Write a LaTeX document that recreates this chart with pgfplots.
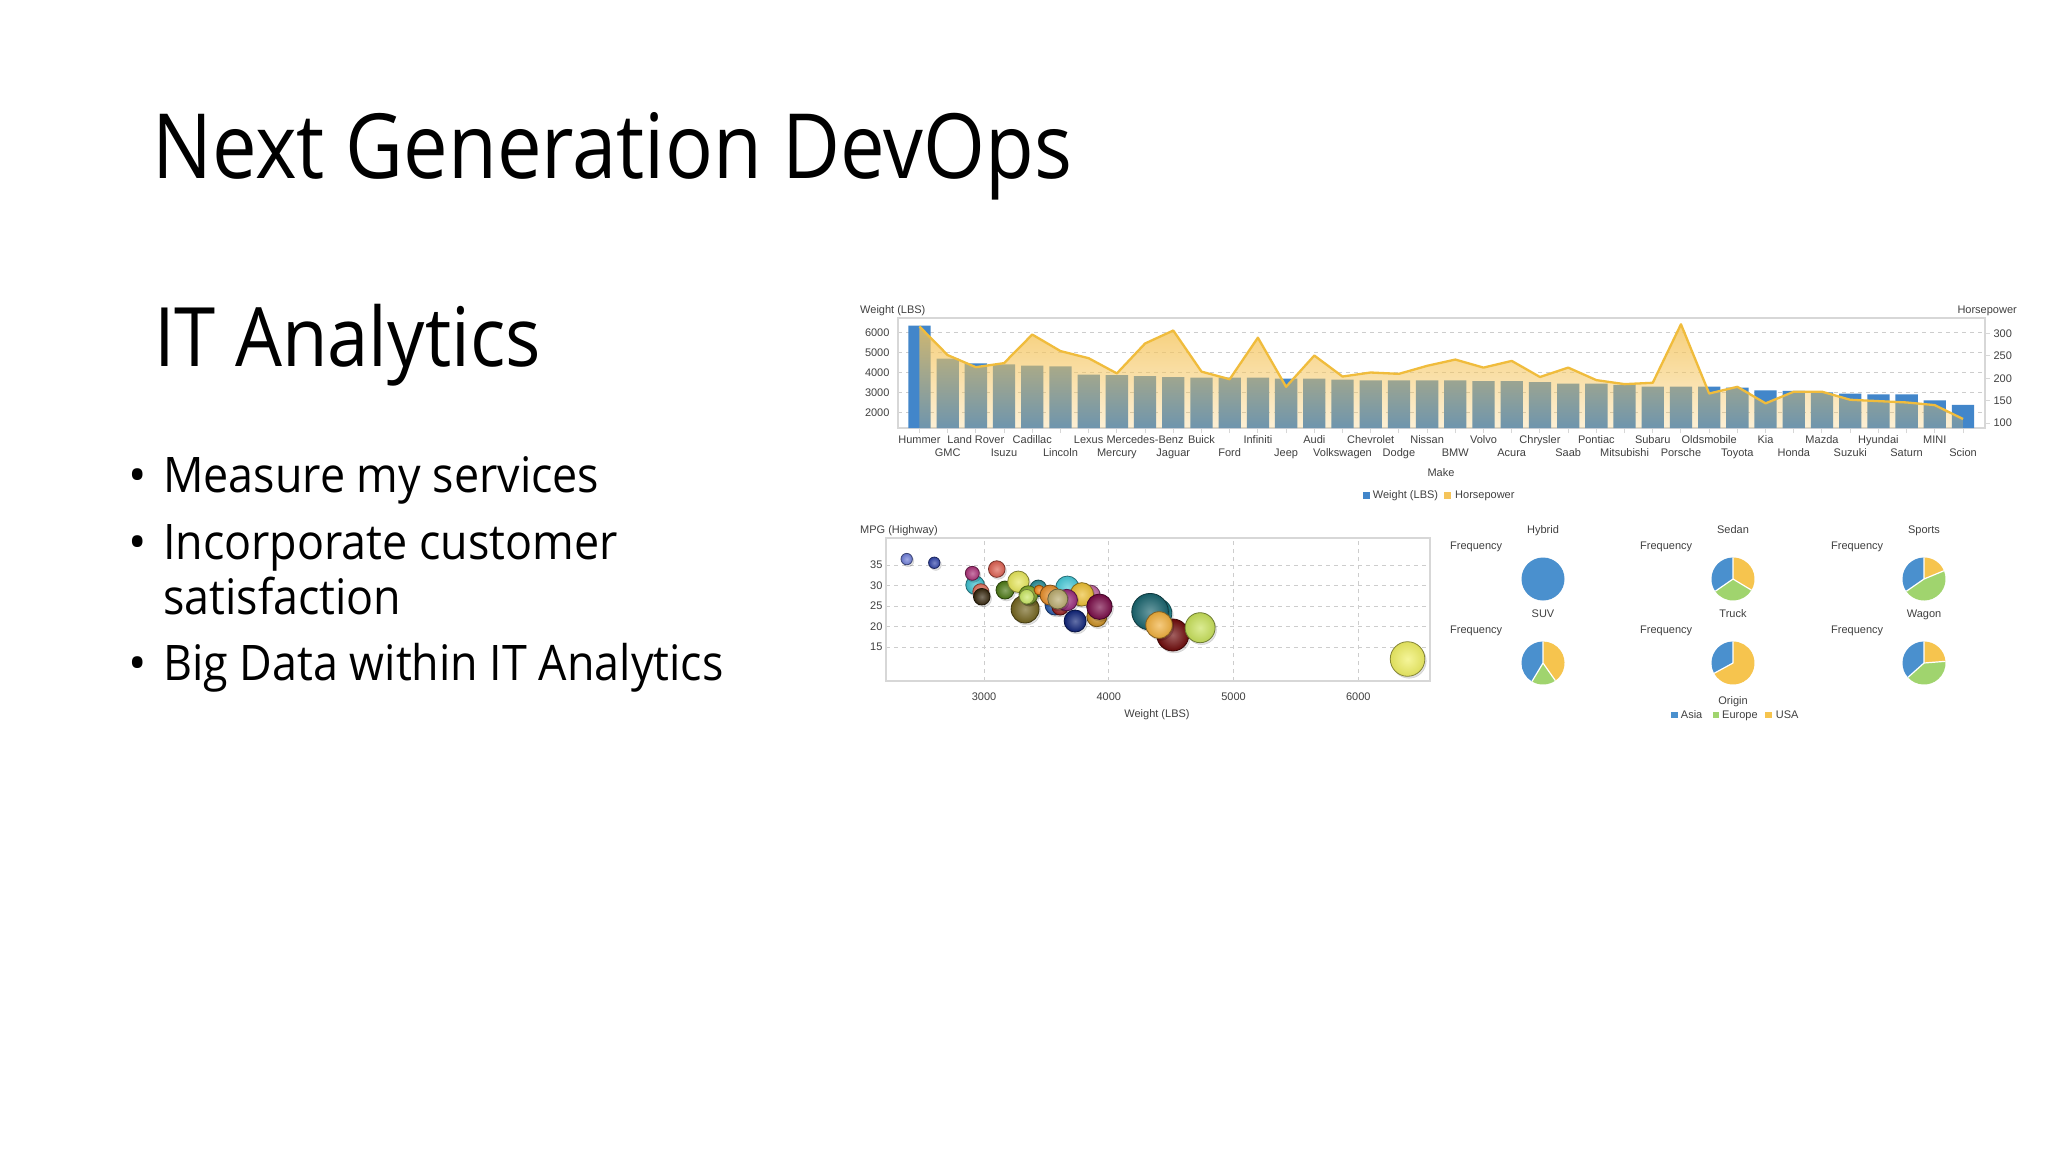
\documentclass[border=0pt]{standalone}
\usepackage{pgfplots}
\pgfplotsset{compat=1.18}
\usepackage{pgfplotstable}
\usepackage{fontspec}
\setmainfont{Open Sans}
\newfontfamily\chartfont{Liberation Sans}
\usetikzlibrary{fadings}
\definecolor{barblue}{RGB}{66,134,202}
\definecolor{hpline}{RGB}{240,188,60}
\definecolor{hpfill}{RGB}{245,196,90}
\definecolor{asia}{RGB}{74,144,206}
\definecolor{europe}{RGB}{160,212,110}
\definecolor{usa}{RGB}{246,196,78}
\definecolor{txt}{RGB}{64,64,64}
\definecolor{framec}{RGB}{215,215,215}
\definecolor{gridc}{RGB}{205,205,205}
\definecolor{bc1}{RGB}{110,125,215}
\definecolor{bc2}{RGB}{50,70,170}
\definecolor{bc3}{RGB}{60,190,205}
\definecolor{bc4}{RGB}{170,50,120}
\definecolor{bc5}{RGB}{225,115,95}
\definecolor{bc6}{RGB}{55,40,15}
\definecolor{bc7}{RGB}{220,95,80}
\definecolor{bc8}{RGB}{75,120,20}
\definecolor{bc9}{RGB}{230,230,90}
\definecolor{bc10}{RGB}{115,100,30}
\definecolor{bc11}{RGB}{40,140,150}
\definecolor{bc12}{RGB}{130,170,40}
\definecolor{bc13}{RGB}{200,230,100}
\definecolor{bc14}{RGB}{240,130,20}
\definecolor{bc15}{RGB}{190,100,160}
\definecolor{bc16}{RGB}{70,200,215}
\definecolor{bc17}{RGB}{200,140,30}
\definecolor{bc18}{RGB}{235,190,50}
\definecolor{bc19}{RGB}{120,10,70}
\definecolor{bc20}{RGB}{40,90,170}
\definecolor{bc21}{RGB}{150,30,30}
\definecolor{bc22}{RGB}{230,140,40}
\definecolor{bc23}{RGB}{150,40,120}
\definecolor{bc24}{RGB}{185,170,110}
\definecolor{bc25}{RGB}{15,35,120}
\definecolor{bc26}{RGB}{30,130,140}
\definecolor{bc27}{RGB}{25,100,110}
\definecolor{bc28}{RGB}{110,10,10}
\definecolor{bc29}{RGB}{240,175,60}
\definecolor{bc30}{RGB}{200,225,90}
\definecolor{bc31}{RGB}{240,240,100}
\tikzfading[name=hpfade, top color=transparent!20, bottom color=transparent!75]

\pgfplotstableread{
idx weight hp
0 6351 316
1 4695 252
2 4460 225
3 4410 234
4 4343 298
5 4310 261
6 3891 245
7 3874 211
8 3824 278
9 3774 307
10 3740 215
11 3740 198
12 3740 291
13 3690 181
14 3690 251
15 3640 204
16 3607 213
17 3607 210
18 3607 228
19 3607 242
20 3573 224
21 3573 239
22 3523 203
23 3440 224
24 3440 196
25 3373 187
26 3289 190
27 3289 321
28 3289 166
29 3238 181
30 3105 144
31 3071 170
32 3004 170
33 2937 152
34 2904 149
35 2904 146
36 2603 140
37 2368 109
}\cardata

\pgfplotstableread{
x y r ci
2380 36.46 5.7 1
2601 35.56 5.7 2
2928 30.12 9.3 3
2906 32.98 7.0 4
2974 28.49 8.0 5
2982 27.27 8.3 6
3102 34.02 8.3 7
3168 28.90 9.0 8
3275 30.93 10.7 9
3329 24.27 14.0 10
3435 29.32 8.3 11
3355 27.68 9.3 12
3342 27.27 7.3 13
3441 28.90 5.0 14
3850 27.68 10.0 15
3668 29.46 11.7 16
3904 22.39 10.0 17
3784 27.85 11.7 18
3925 24.83 12.7 19
3569 25.24 10.0 20
3610 24.83 8.3 21
3529 27.68 10.0 22
3663 26.46 10.7 23
3591 26.71 10.0 24
3730 21.34 11.0 25
4385 23.22 15.0 26
4331 23.61 18.3 27
4513 17.93 16.0 28
4403 20.37 13.3 29
4732 19.71 15.0 30
6395 12.07 17.3 31
}\bubbles

\newcommand\piechart[5]{%
  \begin{scope}[shift={(#1,-#2)}]
    \pgfmathsetmacro\pa{90+#3}%
    \pgfmathsetmacro\pb{\pa+#4}%
    \fill[asia] (0,0) -- (90:21.5) arc[start angle=90,end angle=\pa,radius=21.5] -- cycle;
    \fill[europe] (0,0) -- (\pa:21.5) arc[start angle=\pa,end angle=\pb,radius=21.5] -- cycle;
    \fill[usa] (0,0) -- (\pb:21.5) arc[start angle=\pb,end angle=450,radius=21.5] -- cycle;
    \draw[white, line width=1.2] (0,0) -- (90:21.5) (0,0) -- (\pa:21.5) (0,0) -- (\pb:21.5);
  \end{scope}}
\newcommand\cf{\chartfont\fontsize{11}{13}\selectfont}

\begin{document}
\begin{tikzpicture}[x=1pt,y=1pt]
\fill[white] (0,0) rectangle (2048,-1152);

% slide text
\node[anchor=base west, inner sep=0, font=\fontsize{90}{100}\selectfont] at (152,-178) {\scalebox{0.884}[1]{Next Generation DevOps}};
\node[anchor=base west, inner sep=0, font=\fontsize{82}{90}\selectfont] at (154,-366) {\scalebox{0.905}[1]{IT Analytics}};
\begin{scope}[every node/.style={anchor=base west, inner sep=0, font=\fontsize{49}{55}\selectfont}]
\node at (128,-492) {\textbullet};
\node at (163,-492) {\scalebox{0.915}[1]{Measure my services}};
\node at (128,-559) {\textbullet};
\node at (163,-559) {\scalebox{0.915}[1]{Incorporate customer}};
\node at (163,-614) {\scalebox{0.915}[1]{satisfaction}};
\node at (128,-680) {\textbullet};
\node at (163,-680) {\scalebox{0.915}[1]{Big Data within IT Analytics}};
\end{scope}

% ---------- bar + area chart ----------
\begin{axis}[
  at={(898pt,-318pt)}, anchor=north west, scale only axis,
  width=1087pt, height=110pt,
  xmin=-0.76, xmax=37.78, ymin=1211, ymax=6739,
  axis line style={draw=framec, line width=1.2pt},
  xtick={0,...,37},
  xticklabels={{\strut Hummer},{\strut\\\strut GMC},{\strut Land Rover},{\strut\\\strut Isuzu},{\strut Cadillac},{\strut\\\strut Lincoln},{\strut Lexus},{\strut\\\strut Mercury},{\strut Mercedes-Benz},{\strut\\\strut Jaguar},{\strut Buick},{\strut\\\strut Ford},{\strut Infiniti},{\strut\\\strut Jeep},{\strut Audi},{\strut\\\strut Volkswagen},{\strut Chevrolet},{\strut\\\strut Dodge},{\strut Nissan},{\strut\\\strut BMW},{\strut Volvo},{\strut\\\strut Acura},{\strut Chrysler},{\strut\\\strut Saab},{\strut Pontiac},{\strut\\\strut Mitsubishi},{\strut Subaru},{\strut\\\strut Porsche},{\strut Oldsmobile},{\strut\\\strut Toyota},{\strut Kia},{\strut\\\strut Honda},{\strut Mazda},{\strut\\\strut Suzuki},{\strut Hyundai},{\strut\\\strut Saturn},{\strut MINI},{\strut\\\strut Scion}},
  xtick pos=bottom, ytick pos=left, tick align=outside,
  major tick length=5pt,
  xtick style={draw=framec, line width=1pt},
  ytick style={draw=none},
  ytick={2000,3000,4000,5000,6000},
  ymajorgrids, grid style={draw=gridc, dash pattern=on 4pt off 4pt, line width=0.9pt},
  yticklabel style={font=\cf, text=txt},
  xticklabel style={font=\chartfont\fontsize{11}{13.7}\selectfont, text=txt, align=center, anchor=north, yshift=3pt},
  /pgf/number format/assume math mode=true,
  /pgf/number format/set thousands separator={},
  scaled y ticks=false,
]
\addplot[ybar, fill=barblue, draw=none, bar width=22.3pt] table[x=idx,y=weight]{\cardata};
\end{axis}
\begin{axis}[
  at={(898pt,-318pt)}, anchor=north west, scale only axis,
  width=1087pt, height=110pt,
  xmin=-0.76, xmax=37.78, ymin=88.8, ymax=335,
  axis x line=none, axis y line*=right,
  axis line style={draw=framec, line width=1.2pt},
  ytick={100,150,200,250,300}, tick align=outside, major tick length=5pt,
  ytick style={draw=framec, line width=1pt},
  yticklabel style={font=\cf, text=txt},
  /pgf/number format/assume math mode=true,
]
\addplot[draw=none, fill=hpfill, path fading=hpfade] table[x=idx,y=hp]{\cardata} \closedcycle;
\addplot[hpline, line width=2.3pt, line join=round, mark=none] table[x=idx,y=hp]{\cardata};
\end{axis}
\begin{scope}[every node/.style={inner sep=0, font=\cf, text=txt}]
\node[anchor=base west] at (860,-313) {Weight (LBS)};
\node[anchor=base east] at (2017,-313) {Horsepower};
\node[anchor=base] at (1441,-476) {Make};
\fill[barblue] (1363,-492) rectangle (1369.5,-498.5);
\node[anchor=base west] at (1372.7,-498.5) {Weight (LBS)};
\fill[hpfill] (1444,-492) rectangle (1450.5,-498.5);
\node[anchor=base west] at (1455,-498.5) {Horsepower};
\end{scope}

% ---------- bubble chart ----------
\begin{axis}[
  at={(886pt,-538pt)}, anchor=north west, scale only axis,
  width=544pt, height=143pt,
  xmin=2214, xmax=6575, ymin=6.7, ymax=41.6,
  xtick={3000,4000,5000,6000}, ytick={15,20,25,30,35},
  grid=major, grid style={draw=gridc, dash pattern=on 4pt off 4pt, line width=0.9pt},
  axis line style={draw=framec, line width=1.2pt},
  tick style={draw=none},
  ticklabel style={font=\cf, text=txt},
  xticklabel style={yshift=-8pt},
  /pgf/number format/assume math mode=true,
  /pgf/number format/set thousands separator={},
  scaled x ticks=false,
]
\addplot[only marks, scatter, mark=*, mark size=0.1pt,
  mark options={draw opacity=0, fill opacity=0},
  visualization depends on={\thisrow{r}\as\rr},
  visualization depends on={\thisrow{ci}\as\cix},
  scatter/@pre marker code/.code={\pgfmathtruncatemacro\cidx{\cix}%
    \fill[opacity=0.12, black] (axis direction cs:0,0) ++(1.5pt,-2pt) circle[radius=\rr pt];
    \shadedraw[opacity=1, inner color=bc\cidx!65!white, outer color=bc\cidx!92!black, draw=bc\cidx!55!black, line width=0.8pt] (axis direction cs:0,0) circle[radius=\rr pt];},
  scatter/@post marker code/.code={},
] table[x=x,y=y]{\bubbles};
\end{axis}
\begin{scope}[every node/.style={inner sep=0, font=\cf, text=txt}]
\node[anchor=base west] at (860,-533) {MPG (Highway)};
\node[anchor=base] at (1157,-717) {Weight (LBS)};

% ---------- pies ----------
\node[anchor=base] at (1543,-533) {Hybrid};
\node[anchor=base] at (1733,-533) {Sedan};
\node[anchor=base] at (1924,-533) {Sports};
\node[anchor=base west] at (1450,-549.5) {Frequency};
\node[anchor=base west] at (1640,-549.5) {Frequency};
\node[anchor=base west] at (1831,-549.5) {Frequency};
\node[anchor=base] at (1543,-617) {SUV};
\node[anchor=base] at (1733,-617) {Truck};
\node[anchor=base] at (1924,-617) {Wagon};
\node[anchor=base west] at (1450,-633) {Frequency};
\node[anchor=base west] at (1640,-633) {Frequency};
\node[anchor=base west] at (1831,-633) {Frequency};
\node[anchor=base] at (1733,-704.5) {Origin};
\fill[asia] (1671,-711.5) rectangle (1677.5,-718);
\node[anchor=base west] at (1680.7,-718) {Asia};
\fill[europe] (1712.5,-711.5) rectangle (1719,-718);
\node[anchor=base west] at (1722,-718) {Europe};
\fill[usa] (1765,-711.5) rectangle (1771.5,-718);
\node[anchor=base west] at (1775.7,-718) {USA};
\end{scope}
\fill[asia] (1543,-579) circle[radius=21.5];
\piechart{1733}{579}{124.6}{114.4}{121}
\piechart{1924}{579}{124.7}{167.8}{67.5}
\piechart{1543}{663}{149}{66}{145}
\piechart{1733}{663}{118.6}{0}{241.4}
\piechart{1924}{663}{131.8}{142.7}{85.5}
\end{tikzpicture}
\end{document}
